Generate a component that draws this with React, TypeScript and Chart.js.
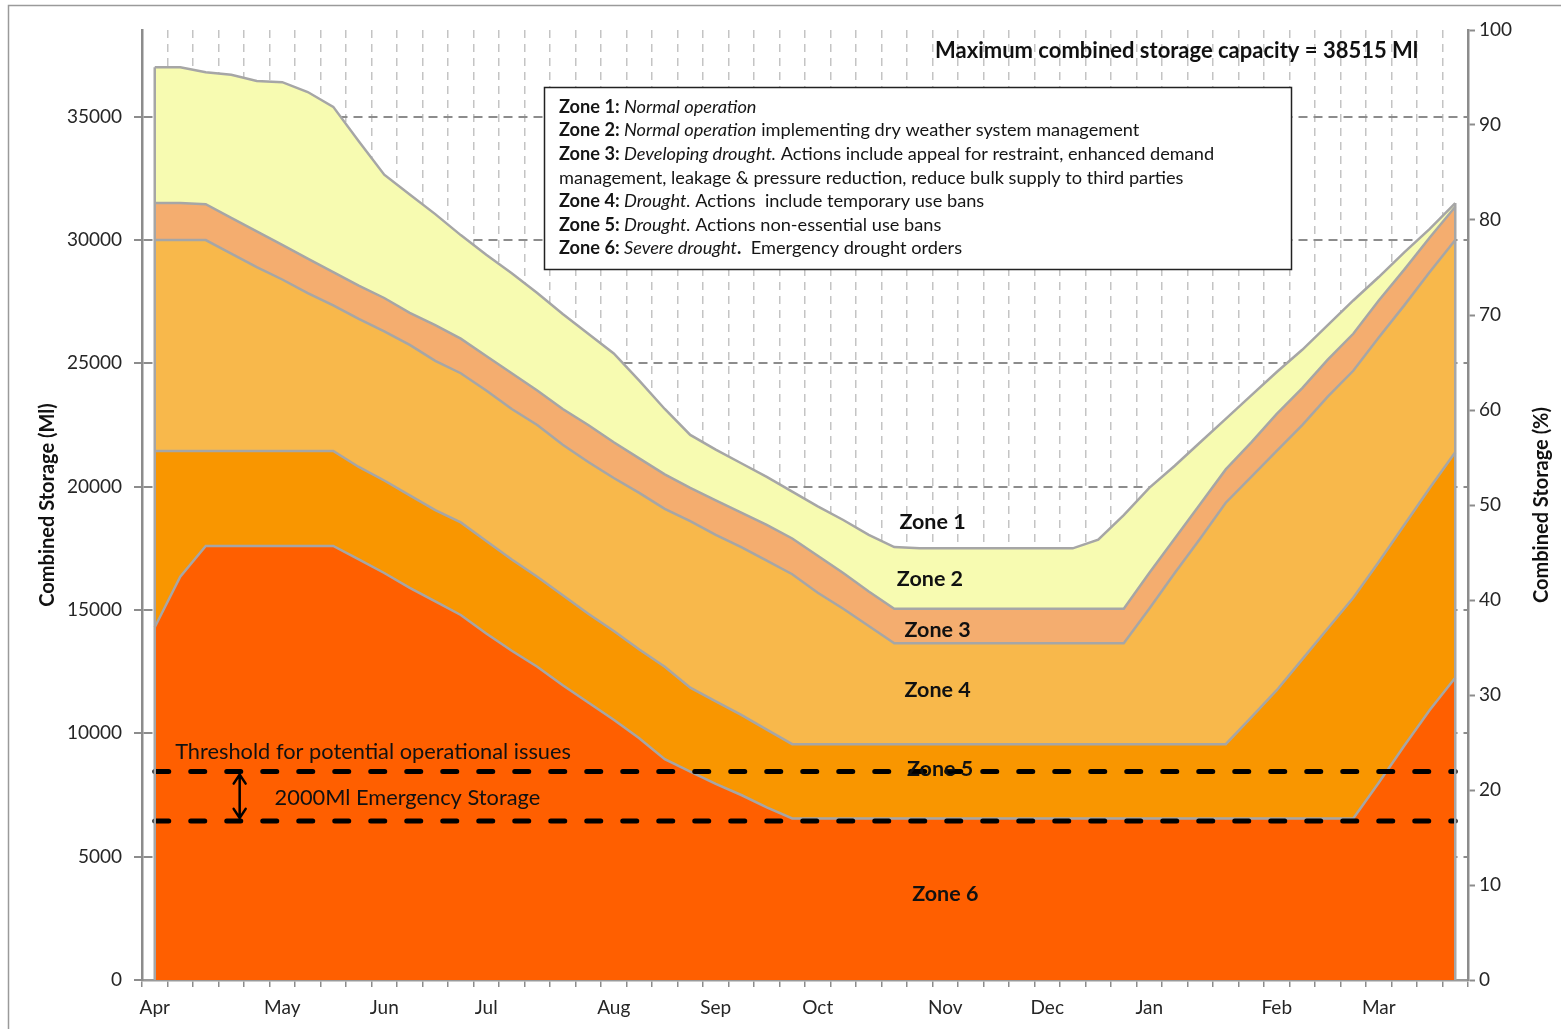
import React, { useEffect, useRef } from 'react';
import { Chart, registerables } from 'chart.js';

Chart.register(...registerables);

const FONT = 'Lato, "Open Sans", sans-serif';

// ---------- data ----------
const monthNames = ['Apr', 'May', 'Jun', 'Jul', 'Aug', 'Sep', 'Oct', 'Nov', 'Dec', 'Jan', 'Feb', 'Mar'];
const monthWeekIndex = [0, 5, 9, 13, 18, 22, 26, 31, 35, 39, 44, 48];
const weekCount = 52;

// Upper boundary of each zone band (Ml), one value per week from April
const zone2Top = [
  37000, 37000, 36800, 36700, 36450, 36400, 36000, 35400, 34000, 32650,
  31850, 31050, 30200, 29400, 28650, 27850, 27000, 26200, 25400, 24300,
  23150, 22100, 21500, 20950, 20400, 19800, 19200, 18650, 18050, 17550,
  17500, 17500, 17500, 17500, 17500, 17500, 17500, 17850, 18850, 19950,
  20850, 21800, 22750, 23700, 24650, 25550, 26550, 27550, 28500, 29500,
  30450, 31500,
];
const zone3Top = [
  31500, 31500, 31450, 30900, 30350, 29800, 29250, 28700, 28150, 27650,
  27050, 26550, 26000, 25300, 24600, 23900, 23150, 22500, 21800, 21150,
  20500, 19950, 19450, 18950, 18450, 17900, 17200, 16500, 15750, 15050,
  15050, 15050, 15050, 15050, 15050, 15050, 15050, 15050, 15050, 16500,
  17900, 19300, 20700, 21800, 22950, 24000, 25150, 26200, 27550, 28800,
  30100, 31350,
];
const zone4Top = [
  30000, 30000, 30000, 29450, 28900, 28400, 27850, 27350, 26800, 26300,
  25750, 25100, 24600, 23900, 23150, 22500, 21700, 21000, 20350, 19750,
  19100, 18600, 18050, 17550, 17000, 16450, 15700, 15050, 14350, 13650,
  13650, 13650, 13650, 13650, 13650, 13650, 13650, 13650, 13650, 15050,
  16500, 17900, 19350, 20400, 21450, 22500, 23650, 24700, 26050, 27350,
  28700, 30000,
];
const zone5Top = [
  21450, 21450, 21450, 21450, 21450, 21450, 21450, 21450, 20800, 20250,
  19650, 19050, 18550, 17800, 17050, 16350, 15600, 14850, 14150, 13400,
  12700, 11850, 11300, 10750, 10150, 9560, 9560, 9560, 9560, 9560,
  9560, 9560, 9560, 9560, 9560, 9560, 9560, 9560, 9560, 9560,
  9560, 9560, 9560, 10650, 11750, 13000, 14250, 15500, 16950, 18450,
  19950, 21400,
];
const zone6Top = [
  14300, 16350, 17600, 17600, 17600, 17600, 17600, 17600, 17050, 16500,
  15900, 15350, 14800, 14050, 13350, 12700, 11950, 11250, 10550, 9800,
  8950, 8450, 7950, 7500, 7000, 6550, 6550, 6550, 6550, 6550,
  6550, 6550, 6550, 6550, 6550, 6550, 6550, 6550, 6550, 6550,
  6550, 6550, 6550, 6550, 6550, 6550, 6550, 6550, 8000, 9500,
  10950, 12250,
];

const thresholdLevel = 8450;
const emergencyLevel = 6450;
const maxCapacity = 38515;
const leftTicks = [0, 5000, 10000, 15000, 20000, 25000, 30000, 35000];
const rightTicks = [0, 10, 20, 30, 40, 50, 60, 70, 80, 90, 100];

const zoneColors = ['#F7FBB1', '#F4AD6F', '#F8B84B', '#F99600', '#FF5F00'];
const EDGE = '#A6A6A6';

const weekLabels = Array.from({ length: weekCount }, (_, i) => {
  const k = monthWeekIndex.indexOf(i);
  return k >= 0 ? monthNames[k] : '';
});

type Run = [string, string];
const legendLines: Run[][] = [
  [['Zone 1:', 'b'], [' Normal operation', 'i']],
  [['Zone 2:', 'b'], [' Normal operation', 'i'], [' implementing dry weather system management', 'n']],
  [['Zone 3:', 'b'], [' Developing drought.', 'i'], [' Actions include appeal for restraint, enhanced demand', 'n']],
  [['management, leakage & pressure reduction, reduce bulk supply to third parties', 'n']],
  [['Zone 4:', 'b'], [' Drought.', 'i'], [' Actions  include temporary use bans', 'n']],
  [['Zone 5:', 'b'], [' Drought.', 'i'], [' Actions non-essential use bans', 'n']],
  [['Zone 6:', 'b'], [' Severe drought', 'i'], ['.', 'b'], ['  Emergency drought orders', 'n']],
];

const zoneNames = ['Zone 1', 'Zone 2', 'Zone 3', 'Zone 4', 'Zone 5', 'Zone 6'];

function runFont(style: string, size: number) {
  if (style === 'b') return `bold ${size}px ${FONT}`;
  if (style === 'i') return `italic ${size}px ${FONT}`;
  return `${size}px ${FONT}`;
}

const annotationPlugin = {
  id: 'annotations',
  afterDatasetsDraw(chart: any) {
    const { ctx, scales } = chart;
    const x = scales.x;
    const y = scales.y;
    ctx.save();
    ctx.strokeStyle = EDGE;
    ctx.lineWidth = 2.5;
    [0, weekCount - 1].forEach((i) => {
      const px = x.getPixelForValue(i);
      ctx.beginPath();
      ctx.moveTo(px, y.getPixelForValue(0));
      ctx.lineTo(px, y.getPixelForValue(zone2Top[i]));
      ctx.stroke();
    });
    ctx.restore();
  },
  afterDraw(chart: any) {
    const { ctx, scales, chartArea } = chart;
    const x = scales.x;
    const y = scales.y;
    ctx.save();

    // outer frame
    ctx.strokeStyle = '#9a9a9a';
    ctx.lineWidth = 1.5;
    ctx.strokeRect(8.5, 5.5, 1600, 1100);

    // title
    ctx.fillStyle = '#111';
    ctx.textBaseline = 'middle';
    ctx.textAlign = 'left';
    ctx.font = `bold 22px ${FONT}`;
    ctx.fillText('Maximum combined storage capacity = 38515 Ml', 935, 51);

    // right axis title (reads bottom to top)
    ctx.save();
    ctx.translate(1542, (chartArea.top + chartArea.bottom) / 2);
    ctx.rotate(-Math.PI / 2);
    ctx.textAlign = 'center';
    ctx.font = `bold 20px ${FONT}`;
    ctx.fillText('Combined Storage (%)', 0, 0);
    ctx.restore();

    // legend box
    ctx.fillStyle = '#fff';
    ctx.fillRect(544, 87, 747, 182);
    ctx.strokeStyle = '#222';
    ctx.lineWidth = 1.5;
    ctx.strokeRect(544.5, 87.5, 747, 182);
    ctx.fillStyle = '#151515';
    legendLines.forEach((line, li) => {
      let cx = 559;
      const cy = 107 + li * 23.6;
      line.forEach(([text, style]) => {
        ctx.font = runFont(style, 18.2);
        ctx.fillText(text, cx, cy);
        cx += ctx.measureText(text).width;
      });
    });

    // zone labels
    ctx.textAlign = 'center';
    ctx.font = `bold 21.5px ${FONT}`;
    ctx.fillStyle = '#111';
    const zx = [30.5, 30.4, 30.7, 30.7, 30.8, 31.0];
    const zy = [18550, 16250, 14200, 11750, 8550, 3480];
    zoneNames.forEach((name, i) => {
      ctx.fillText(name, x.getPixelForValue(zx[i]), y.getPixelForValue(zy[i]));
    });

    // threshold annotations
    ctx.textAlign = 'left';
    ctx.font = `21.8px ${FONT}`;
    ctx.fillStyle = '#111';
    ctx.fillText('Threshold for potential operational issues', x.getPixelForValue(0.8), y.getPixelForValue(9240));
    ctx.fillText('2000Ml Emergency Storage', x.getPixelForValue(4.7), y.getPixelForValue(7400));

    // double arrow
    const ax = x.getPixelForValue(3.33);
    const ay1 = y.getPixelForValue(thresholdLevel) + 3;
    const ay2 = y.getPixelForValue(emergencyLevel) - 3;
    ctx.strokeStyle = '#000';
    ctx.lineWidth = 2.5;
    ctx.lineCap = 'round';
    ctx.beginPath();
    ctx.moveTo(ax, ay1);
    ctx.lineTo(ax, ay2);
    ctx.moveTo(ax - 6, ay1 + 9);
    ctx.lineTo(ax, ay1);
    ctx.lineTo(ax + 6, ay1 + 9);
    ctx.moveTo(ax - 6, ay2 - 9);
    ctx.lineTo(ax, ay2);
    ctx.lineTo(ax + 6, ay2 - 9);
    ctx.stroke();

    ctx.restore();
  },
};

function zoneDataset(label: string, data: number[], color: string) {
  return {
    label,
    data,
    borderColor: EDGE,
    borderWidth: 2.5,
    backgroundColor: color,
    fill: 'origin',
    pointRadius: 0,
    tension: 0,
    yAxisID: 'y',
  };
}

function levelDataset(label: string, level: number) {
  return {
    label,
    data: Array.from({ length: weekCount }, () => level),
    borderColor: '#000',
    borderWidth: 5,
    borderDash: [14, 22],
    borderCapStyle: 'round',
    fill: false,
    pointRadius: 0,
    yAxisID: 'y',
  };
}

export default function App() {
  const canvasRef = useRef<HTMLCanvasElement | null>(null);

  useEffect(() => {
    if (!canvasRef.current) return;
    const chart = new Chart(canvasRef.current, {
      type: 'line',
      data: {
        labels: weekLabels,
        datasets: [
          levelDataset('Threshold', thresholdLevel),
          levelDataset('Emergency storage', emergencyLevel),
          zoneDataset('Zone 6', zone6Top, zoneColors[4]),
          zoneDataset('Zone 5', zone5Top, zoneColors[3]),
          zoneDataset('Zone 4', zone4Top, zoneColors[2]),
          zoneDataset('Zone 3', zone3Top, zoneColors[1]),
          zoneDataset('Zone 2', zone2Top, zoneColors[0]),
        ] as any,
      },
      options: {
        responsive: false,
        animation: false,
        events: [],
        layout: { padding: { top: 30, left: 0, right: 0, bottom: 0 } },
        plugins: { legend: { display: false }, tooltip: { enabled: false }, title: { display: false } },
        scales: {
          x: {
            type: 'category',
            offset: true,
            afterFit: (s: any) => { s.height = 49; },
            grid: {
              offset: true,
              color: '#C4C4C4',
              lineWidth: 1.5,
              tickColor: '#8c8c8c',
              tickLength: 7,
              tickWidth: 1.5,
              tickBorderDash: [],
            },
            border: { display: true, color: '#9a9a9a', width: 2.5, dash: [8, 6] },
            ticks: {
              autoSkip: false,
              maxRotation: 0,
              minRotation: 0,
              padding: 9,
              color: '#262626',
              font: { family: FONT, size: 19 },
            },
          },
          y: {
            type: 'linear',
            position: 'left',
            min: 0,
            max: maxCapacity,
            afterFit: (s: any) => { s.width = 142; },
            afterBuildTicks: (s: any) => { s.ticks = leftTicks.map((v) => ({ value: v })); },
            grid: {
              color: '#8c8c8c',
              lineWidth: 2,
              tickColor: '#8c8c8c',
              tickLength: 8,
              tickWidth: 2,
              tickBorderDash: [],
            },
            border: { display: true, color: '#8c8c8c', width: 2.5, dash: [9, 6] },
            ticks: {
              padding: 12,
              color: '#262626',
              font: { family: FONT, size: 19 },
              callback: (v: any) => String(v),
            },
            title: {
              display: true,
              text: 'Combined Storage (Ml)',
              color: '#111',
              font: { family: FONT, size: 20, weight: 'bold' },
              padding: { top: 36, bottom: 0 },
            },
          },
          y2: {
            type: 'linear',
            position: 'right',
            min: 0,
            max: 100,
            afterFit: (s: any) => { s.width = 93; },
            afterBuildTicks: (s: any) => { s.ticks = rightTicks.map((v) => ({ value: v })); },
            grid: {
              drawOnChartArea: false,
              tickColor: '#8c8c8c',
              tickLength: 7,
              tickWidth: 2,
            },
            border: { display: true, color: '#8c8c8c', width: 2.5 },
            ticks: {
              padding: 4,
              color: '#262626',
              font: { family: FONT, size: 19 },
            },
          },
        },
      } as any,
      plugins: [annotationPlugin],
    });
    return () => chart.destroy();
  }, []);

  return (
    <div style={{ position: 'absolute', left: 0, top: 0, width: 1561, height: 1029, background: '#fff' }}>
      <canvas ref={canvasRef} width={1561} height={1029} style={{ display: 'block' }} />
    </div>
  );
}
